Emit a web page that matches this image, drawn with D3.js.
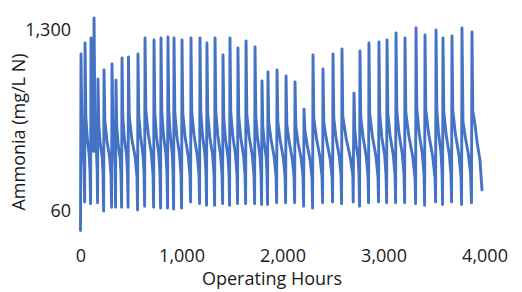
<!DOCTYPE html>
<html>
<head>
<meta charset="utf-8">
<script src="https://cdn.jsdelivr.net/npm/d3@7"></script>
<style>
  html, body { margin: 0; padding: 0; background: #fff; }
  svg { display: block; }
  text { font-family: "Open Sans", sans-serif; fill: #1a1a1a; }
</style>
</head>
<body>
<svg id="chart" width="522" height="292"></svg>
<script>
const hours = [
  0,5,13,22,34,41,45,53,66,86,94,100,104,112,121,130,134,142,150,160,165,169,173,
  181,194,215,223,229,233,241,261,288,302,308,312,320,328,338,343,347,351,
  359,372,393,401,407,411,419,433,456,465,471,475,483,508,541,559,565,569,
  577,594,618,629,635,639,647,670,701,718,724,728,736,752,776,787,793,797,
  805,821,845,856,862,866,874,887,908,916,922,926,934,954,981,995,1001,1005,
  1013,1036,1067,1084,1090,1094,1102,1125,1156,1173,1179,1183,1191,1207,1231,1242,1248,1252,
  1260,1280,1308,1322,1328,1332,1340,1360,1387,1401,1407,1411,1419,1435,1459,1470,1476,1480,
  1488,1508,1535,1549,1555,1559,1567,1587,1615,1629,1635,1639,1647,1670,1701,1718,1724,1728,
  1736,1752,1776,1787,1793,1797,1805,1818,1838,1846,1852,1856,1864,1888,1919,1936,1942,1946,
  1954,1977,2008,2025,2031,2035,2043,2066,2097,2114,2120,2124,2132,2155,2186,2203,2209,2213,
  2221,2244,2275,2292,2298,2302,2310,2337,2371,2391,2397,2401,2409,2436,2470,2490,2496,2500,
  2508,2531,2562,2579,2585,2589,2597,2631,2672,2696,2700,2703,2708,2716,2729,2749,2757,2763,2767,
  2775,2798,2829,2846,2852,2856,2864,2891,2925,2945,2951,2955,2963,2983,3011,3025,3031,3035,
  3043,3066,3097,3114,3120,3124,3132,3155,3186,3203,3209,3213,3221,3251,3289,3312,3318,3322,
  3330,3353,3384,3401,3407,3411,3419,3449,3487,3510,3516,3520,3528,3544,3568,3579,3585,3589,
  3597,3620,3651,3668,3674,3678,3686,3713,3747,3767,3773,3777,3787,3810,3840,3862,3871,3876,
  3884,3906,3928,3955,3975
];
const ammonia = [
  43,865,290,190,130,70,1042,300,210,155,118,68,1135,290,205,165,1594,330,220,150,120,69,565,
  260,195,150,115,60,659,280,200,150,110,64,729,285,205,155,125,64,555,
  255,190,145,112,64,808,295,210,155,115,64,822,300,205,150,108,61,865,
  305,215,158,115,65,1135,330,225,160,112,64,1097,320,215,155,112,63,1135,
  325,220,160,115,63,1154,330,225,160,118,62,1135,320,215,155,112,63,1097,
  315,210,152,110,70,1135,320,215,155,112,68,1135,325,220,160,116,66,1042,
  310,212,155,112,66,1135,320,215,155,112,68,850,290,205,152,112,66,1135,
  320,215,155,112,68,957,300,208,152,110,68,1078,310,212,155,110,68,974,
  300,210,155,115,67,547,255,195,150,115,67,637,270,200,148,108,69,659,
  270,200,148,108,69,595,260,195,145,108,69,537,255,190,145,108,65,339,
  240,185,140,105,63,850,290,205,150,108,69,670,270,200,148,108,70,865,
  290,205,152,110,68,942,300,205,148,110,70,160,445,240,185,145,112,65,910,
  300,210,152,110,69,1042,310,212,152,108,70,1060,310,212,155,110,69,1097,
  315,215,155,110,69,1236,330,220,158,112,69,1135,320,215,152,105,68,1345,
  340,225,160,112,66,1194,330,218,152,105,70,1300,340,230,165,120,67,1135,
  325,220,158,112,70,1174,330,220,155,108,67,1345,275,210,158,115,69,1256,
  330,260,190,143,86
];
const xTicks = [0, 1000, 2000, 3000, 4000];
const yTicks = [60, 1300];
const xTitle = "Operating Hours";
const yTitle = "Ammonia (mg/L N)";

const data = hours.map((h, i) => ({ h, v: ammonia[i] }));

const svg = d3.select("#chart");
const x = d3.scaleLinear().domain([0, 4000]).range([80.5, 484.5]);
const y = d3.scaleLog().domain([60, 1300]).range([211, 30]);

const line = d3.line().x(d => x(d.h)).y(d => y(d.v));
svg.append("path")
  .datum(data)
  .attr("fill", "none")
  .attr("stroke", "#4472C4")
  .attr("stroke-width", 2.9)
  .attr("stroke-linejoin", "round")
  .attr("stroke-linecap", "round")
  .attr("d", line);

const fmt = d3.format(",");
const xAxis = svg.append("g")
  .attr("transform", "translate(0,240)")
  .call(d3.axisBottom(x).tickValues(xTicks).tickFormat(fmt).tickSize(0).tickPadding(9));
const yAxis = svg.append("g")
  .attr("transform", "translate(80.5,0)")
  .call(d3.axisLeft(y).tickValues(yTicks).tickFormat(fmt).tickSize(0).tickPadding(9.5));
[xAxis, yAxis].forEach(g => {
  g.select(".domain").remove();
  g.selectAll("text")
    .style("font-family", "'Open Sans', sans-serif")
    .style("font-size", "18px")
    .attr("fill", "#1a1a1a");
});

svg.append("text")
  .attr("x", 272).attr("y", 285)
  .attr("text-anchor", "middle")
  .style("font-size", "18px")
  .text(xTitle);

svg.append("text")
  .attr("transform", "translate(25,132) rotate(-90)")
  .attr("text-anchor", "middle")
  .style("font-size", "18px")
  .text(yTitle);
</script>
</body>
</html>
